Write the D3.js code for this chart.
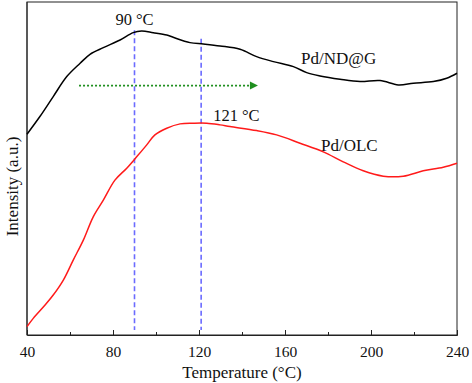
<!DOCTYPE html>
<html>
<head>
<meta charset="utf-8">
<script src="https://cdn.jsdelivr.net/npm/d3@7/dist/d3.min.js"></script>
<style>
  html, body { margin: 0; padding: 0; background: #fff; }
  svg { display: block; }
</style>
</head>
<body>
<svg id="chart" width="472" height="383"></svg>
<script>
// ---- Data ----
const xTicks = [40, 80, 120, 160, 200, 240];
const xMinorTicks = [60, 100, 140, 180, 220];

const ndgTemp = [40, 46.0, 52.2, 58.5, 64.7, 69.3, 75.5, 83.3, 89.4, 93.3, 98.7, 105.0, 108.0, 115.8, 122.0, 129.8, 139.1, 146.8, 154.6, 163.9, 170.1, 176.3, 185.6, 194.9, 204.2, 212.7, 219.7, 229.0, 235.2, 240];
const ndgValue = [60.3, 65.6, 71.6, 77.6, 81.6, 84.3, 86.3, 88.6, 90.8, 91.3, 90.8, 90.1, 89.4, 87.8, 87.4, 86.8, 85.8, 83.6, 82.1, 80.6, 78.8, 77.8, 76.8, 76.1, 76.4, 75.1, 75.6, 76.1, 77.1, 78.6];

const olcTemp = [40, 42.9, 48.4, 52.2, 56.9, 61.5, 66.2, 70.8, 75.5, 80.9, 86.4, 91.0, 95.7, 99.5, 105.0, 111.2, 117.3, 123.6, 129.8, 134.4, 146.8, 156.1, 167.0, 177.8, 187.1, 196.4, 205.7, 215.0, 224.3, 233.6, 240];
const olcValue = [2.5, 5.0, 9.0, 12.0, 16.5, 22.5, 28.5, 35.5, 40.5, 46.5, 50.1, 53.5, 57.1, 60.1, 62.1, 63.4, 63.6, 63.6, 63.1, 62.6, 61.4, 60.1, 57.6, 55.0, 52.0, 49.3, 47.7, 47.7, 49.3, 50.4, 51.6];

const seriesNames = ["Pd/ND@G", "Pd/OLC"];
const peakTemps = [90, 121];
const peakLabels = ["90 °C", "121 °C"];
const peakLineTop = [91.5, 89.0];
const peakLineBottom = 1.5;
const arrowTemps = [64.2, 147.4];
const arrowLevel = 74.9;

// ---- Layout ----
const FONT = '"Liberation Serif"';
const svg = d3.select("#chart");
const mLeft = 27, mRight = 457, mTop = 2, mBottom = 335;

const x = d3.scaleLinear().domain([40, 240]).range([mLeft, mRight]);
const y = d3.scaleLinear().domain([0, 100]).range([mBottom, mTop]);

// Frame
svg.append("rect")
  .attr("x", mLeft).attr("y", mTop)
  .attr("width", mRight - mLeft).attr("height", mBottom - mTop)
  .attr("fill", "none").attr("stroke", "#222").attr("stroke-width", 1);

// Bottom axis (ticks pointing inward)
const xAxis = d3.axisBottom(x).tickValues(xTicks).tickSize(-5).tickPadding(11).tickFormat(d3.format("d"));
const gx = svg.append("g").attr("transform", `translate(0,${mBottom})`).call(xAxis);
gx.attr("font-family", null).attr("font-size", null);
gx.select(".domain").attr("stroke", "#222");
gx.selectAll(".tick line").attr("stroke", "#222");
gx.selectAll(".tick text").attr("fill", "#111")
  .style("font-family", FONT).style("font-size", "15.5px");
const xAxisMinor = d3.axisBottom(x).tickValues(xMinorTicks).tickSize(-3).tickFormat("");
const gxm = svg.append("g").attr("transform", `translate(0,${mBottom})`).call(xAxisMinor);
gxm.select(".domain").remove();
gxm.selectAll(".tick line").attr("stroke", "#222");

// Left axis line (no ticks)
svg.append("line").attr("x1", mLeft).attr("x2", mLeft).attr("y1", mTop).attr("y2", mBottom)
  .attr("stroke", "#222");

function label(sel, size) {
  return sel.style("font-family", FONT).style("font-size", size + "px").attr("fill", "#111");
}

// Axis titles
label(svg.append("text"), 17).attr("x", (mLeft + mRight) / 2).attr("y", 378)
  .attr("text-anchor", "middle").text("Temperature (°C)");
label(svg.append("text"), 17).attr("transform", `translate(18,${(mTop + mBottom) / 2 + 18}) rotate(-90)`)
  .attr("text-anchor", "middle").text("Intensity (a.u.)");

// Peak marker lines
peakTemps.forEach((t, i) => {
  svg.append("line")
    .attr("x1", x(t)).attr("x2", x(t))
    .attr("y1", y(peakLineTop[i])).attr("y2", y(peakLineBottom))
    .attr("stroke", "#6b6bff").attr("stroke-width", 1.6)
    .attr("stroke-dasharray", "5,3");
});

// Curves
const line = d3.line().x(d => x(d[0])).y(d => y(d[1])).curve(d3.curveCatmullRom.alpha(0.5));
svg.append("path").datum(ndgTemp.map((t, i) => [t, ndgValue[i]]))
  .attr("d", line).attr("fill", "none").attr("stroke", "#000").attr("stroke-width", 1.5);
svg.append("path").datum(olcTemp.map((t, i) => [t, olcValue[i]]))
  .attr("d", line).attr("fill", "none").attr("stroke", "#ff1a1a").attr("stroke-width", 1.5);

// Green dotted arrow
const ax0 = x(arrowTemps[0]), ax1 = x(arrowTemps[1]), ay = y(arrowLevel);
svg.append("line").attr("x1", ax0).attr("x2", ax1 - 7).attr("y1", ay).attr("y2", ay)
  .attr("stroke", "#1f8f1f").attr("stroke-width", 1.6).attr("stroke-dasharray", "2,2");
svg.append("path")
  .attr("d", `M${ax1},${ay} L${ax1 - 8},${ay - 4} L${ax1 - 8},${ay + 4} Z`)
  .attr("fill", "#1f8f1f");

// Annotations
label(svg.append("text"), 16.5).attr("x", x(peakTemps[0])).attr("y", 25)
  .attr("text-anchor", "middle").text(peakLabels[0]);
label(svg.append("text"), 16.5).attr("x", x(peakTemps[1]) + 12).attr("y", 121)
  .attr("text-anchor", "start").text(peakLabels[1]);
label(svg.append("text"), 17).attr("x", 301).attr("y", 64).text(seriesNames[0]);
label(svg.append("text"), 17).attr("x", 321).attr("y", 151).text(seriesNames[1]);
</script>
</body>
</html>
